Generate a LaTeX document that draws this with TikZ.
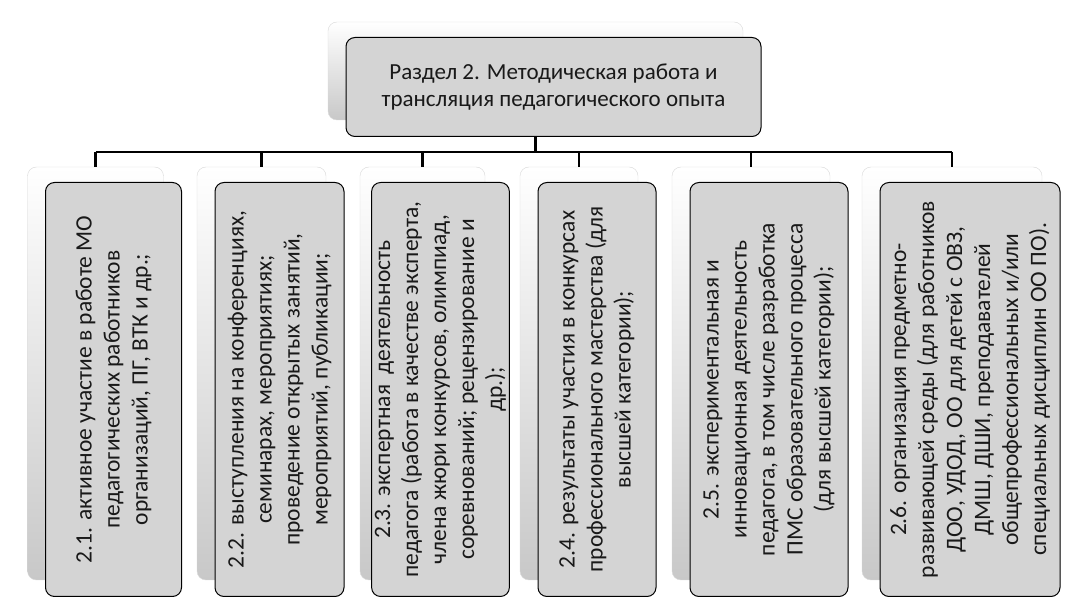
\documentclass[tikz,border=0pt]{standalone}
\usepackage{fontspec}
\setmainfont{Carlito}
\usetikzlibrary{positioning}
\definecolor{boxfill}{RGB}{212,212,212}
\definecolor{backlow}{RGB}{200,200,200}
\definecolor{inktext}{RGB}{25,25,25}

\begin{document}
\begin{tikzpicture}[x=1pt,y=-1pt,
    back/.style={rectangle,rounded corners=9pt,draw=gray!30,top color=white,bottom color=backlow},
    front/.style={rectangle,rounded corners=9pt,draw=black,line width=1pt,fill=boxfill,text=inktext,align=center,font=\fontsize{23.5}{28}\selectfont,xshift=18pt,yshift=-16pt},
    bus/.style={line width=2.5pt}]
    \useasboundingbox (0,0) rectangle (1072,609);
    % top box
    \node(b0)[back,minimum width=415pt,minimum height=98pt] at (535.5,71) {};
    \node(f0)[front,minimum width=415pt,minimum height=99pt,font=\fontsize{23}{27}\selectfont] at (b0) {Раздел 2. Методическая работа и\\трансляция педагогического опыта};
    % back boxes
    \node(b1)[back,minimum width=136pt,minimum height=413pt] at (95.5,373.5) {};
    \node(b2)[back,minimum width=129pt,minimum height=413pt] at (261.5,373.5) {};
    \node(b3)[back,minimum width=125pt,minimum height=413pt] at (422.5,373.5) {};
    \node(b4)[back,minimum width=118pt,minimum height=413pt] at (579,373.5) {};
    \node(b5)[back,minimum width=158pt,minimum height=413pt] at (751,373.5) {};
    \node(b6)[back,minimum width=180pt,minimum height=413pt] at (952,373.5) {};
    % front boxes
    \node(f1)[front,rotate=90,minimum width=414pt,minimum height=136pt] at (b1) {2.1. активное участие в работе МО\\педагогических работников\\организаций, ПГ, ВТК и др.;};
    \node(f2)[front,rotate=90,minimum width=414pt,minimum height=129pt] at (b2) {2.2. выступления на конференциях,\\семинарах, мероприятиях;\\проведение открытых занятий,\\мероприятий, публикации;};
    \node(f3)[front,rotate=90,minimum width=414pt,minimum height=125pt] at (b3) {2.3. экспертная\ \ деятельность\\педагога (работа в качестве эксперта,\\члена жюри конкурсов, олимпиад,\\соревнований; рецензирование и\\др.);};
    \node(f4)[front,rotate=90,minimum width=414pt,minimum height=118pt] at (b4) {2.4. результаты участия в конкурсах\\профессионального мастерства (для\\высшей категории);};
    \node(f5)[front,rotate=90,minimum width=414pt,minimum height=158pt] at (b5) {2.5. экспериментальная и\\инновационная деятельность\\педагога, в том числе разработка\\ПМС образовательного процесса\\(для высшей категории);};
    \node(f6)[front,rotate=90,minimum width=414pt,minimum height=180pt] at (b6) {2.6. организация предметно-\\развивающей среды (для работников\\ДОО, УДОД, ОО для детей с ОВЗ,\\ДМШ, ДШИ, преподавателей\\общепрофессиональных и/или\\специальных дисциплин ОО ПО).};
    % connectors
    \coordinate(bus) at (0,152);
    \draw[bus] (b0 |- f0.south) -- (b0 |- bus);
    \draw[bus] (b1 |- bus) -- (b6 |- bus);
    \draw[bus] (b1 |- bus) -- (b1.north);
    \draw[bus] (b2 |- bus) -- (b2.north);
    \draw[bus] (b3 |- bus) -- (b3.north);
    \draw[bus] (b4 |- bus) -- (b4.north);
    \draw[bus] (b5 |- bus) -- (b5.north);
    \draw[bus] (b6 |- bus) -- (b6.north);
\end{tikzpicture}
\end{document}
